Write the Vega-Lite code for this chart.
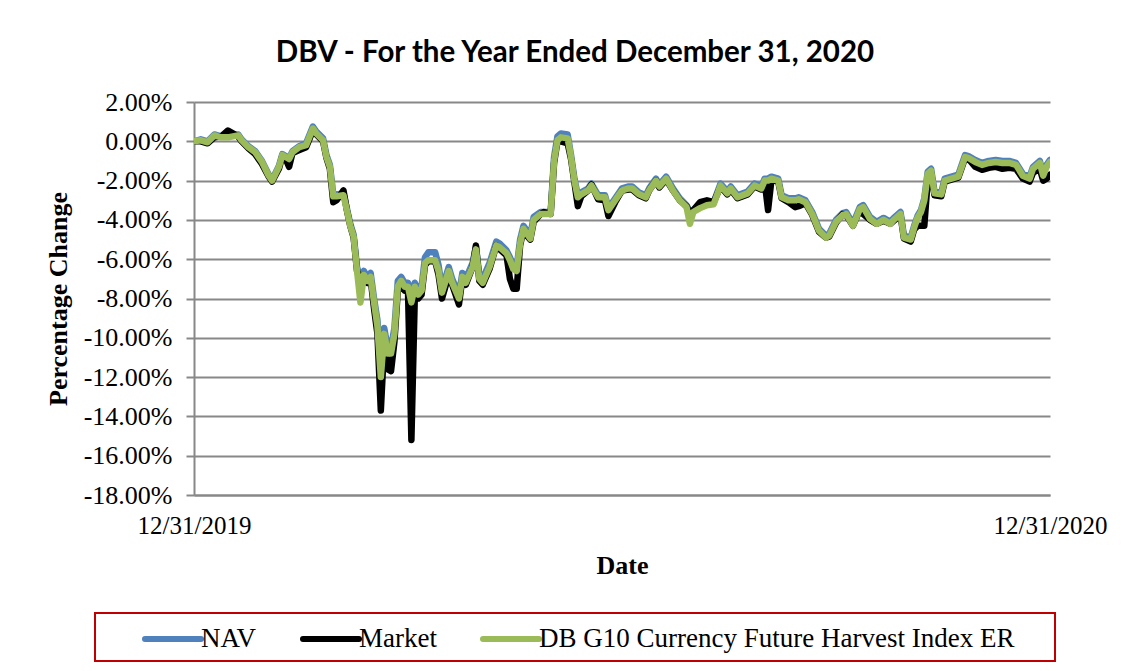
{
  "$schema": "https://vega.github.io/schema/vega-lite/v6.json",
  "width": 856,
  "height": 393,
  "autosize": {"type": "none"},
  "padding": {"left": 194, "top": 102, "right": 82, "bottom": 176},
  "background": "white",
  "title": {"text": "DBV - For the Year Ended December 31, 2020", "font": "Lato", "fontSize": 29.5, "fontWeight": "bold", "color": "black", "anchor": "middle", "frame": "group", "dx": -47, "offset": 21},
  "data": {"values": [
    {"d":0,"idx":0.0,"nav":0.0,"mkt":0.0},
    {"d":2,"idx":0.05,"nav":0.1,"mkt":0.0},
    {"d":4,"idx":-0.05,"nav":0.0,"mkt":-0.1},
    {"d":6,"idx":0.3,"nav":0.35,"mkt":0.2},
    {"d":8,"idx":0.2,"nav":0.25,"mkt":0.25},
    {"d":10,"idx":0.2,"nav":0.3,"mkt":0.55},
    {"d":13,"idx":0.3,"nav":0.35,"mkt":0.25},
    {"d":14,"idx":0.05,"nav":0.1,"mkt":0.0},
    {"d":16,"idx":-0.3,"nav":-0.25,"mkt":-0.35},
    {"d":18,"idx":-0.55,"nav":-0.5,"mkt":-0.65},
    {"d":20,"idx":-1.05,"nav":-1.0,"mkt":-1.15},
    {"d":22,"idx":-1.75,"nav":-1.7,"mkt":-1.8},
    {"d":23,"idx":-2.0,"nav":-1.95,"mkt":-2.05},
    {"d":25,"idx":-1.3,"nav":-1.25,"mkt":-1.4},
    {"d":26,"idx":-0.7,"nav":-0.65,"mkt":-0.75},
    {"d":27,"idx":-0.8,"nav":-0.75,"mkt":-0.9},
    {"d":28,"idx":-0.9,"nav":-0.85,"mkt":-1.3},
    {"d":29,"idx":-0.55,"nav":-0.5,"mkt":-0.6},
    {"d":31,"idx":-0.3,"nav":-0.25,"mkt":-0.45},
    {"d":33,"idx":-0.2,"nav":-0.1,"mkt":-0.3},
    {"d":35,"idx":0.65,"nav":0.75,"mkt":0.55},
    {"d":36,"idx":0.4,"nav":0.5,"mkt":0.35},
    {"d":38,"idx":0.05,"nav":0.15,"mkt":0.0},
    {"d":39,"idx":-0.8,"nav":-0.7,"mkt":-0.85},
    {"d":40,"idx":-1.3,"nav":-1.2,"mkt":-1.4},
    {"d":41,"idx":-2.8,"nav":-2.7,"mkt":-3.1},
    {"d":42,"idx":-2.8,"nav":-2.7,"mkt":-3.0},
    {"d":44,"idx":-2.75,"nav":-2.65,"mkt":-2.5},
    {"d":45,"idx":-3.5,"nav":-3.4,"mkt":-3.5},
    {"d":46,"idx":-4.3,"nav":-4.2,"mkt":-4.3},
    {"d":47,"idx":-4.85,"nav":-4.75,"mkt":-4.9},
    {"d":48,"idx":-6.6,"nav":-6.4,"mkt":-6.6},
    {"d":49,"idx":-8.2,"nav":-7.0,"mkt":-7.0},
    {"d":50,"idx":-6.8,"nav":-6.6,"mkt":-7.0},
    {"d":51,"idx":-7.1,"nav":-6.9,"mkt":-7.2},
    {"d":52,"idx":-6.9,"nav":-6.7,"mkt":-7.0},
    {"d":53,"idx":-8.2,"nav":-8.0,"mkt":-8.5},
    {"d":54,"idx":-9.4,"nav":-9.1,"mkt":-9.8},
    {"d":55,"idx":-12.0,"nav":-11.5,"mkt":-13.7},
    {"d":56,"idx":-9.8,"nav":-9.5,"mkt":-10.3},
    {"d":57,"idx":-10.8,"nav":-10.5,"mkt":-11.6},
    {"d":58,"idx":-10.8,"nav":-10.5,"mkt":-11.7},
    {"d":59,"idx":-9.8,"nav":-9.5,"mkt":-10.2},
    {"d":60,"idx":-7.4,"nav":-7.1,"mkt":-7.6},
    {"d":61,"idx":-7.1,"nav":-6.9,"mkt":-7.3},
    {"d":62,"idx":-7.4,"nav":-7.2,"mkt":-7.6},
    {"d":63,"idx":-7.4,"nav":-7.2,"mkt":-7.6},
    {"d":64,"idx":-8.2,"nav":-8.0,"mkt":-15.2},
    {"d":65,"idx":-7.4,"nav":-7.2,"mkt":-7.9},
    {"d":66,"idx":-7.8,"nav":-7.6,"mkt":-8.0},
    {"d":67,"idx":-7.6,"nav":-7.4,"mkt":-7.8},
    {"d":68,"idx":-6.2,"nav":-5.9,"mkt":-6.3},
    {"d":69,"idx":-6.05,"nav":-5.65,"mkt":-6.1},
    {"d":71,"idx":-6.05,"nav":-5.65,"mkt":-6.1},
    {"d":72,"idx":-6.6,"nav":-6.3,"mkt":-6.8},
    {"d":73,"idx":-7.7,"nav":-7.5,"mkt":-8.0},
    {"d":75,"idx":-6.6,"nav":-6.4,"mkt":-6.8},
    {"d":76,"idx":-7.2,"nav":-7.0,"mkt":-7.3},
    {"d":78,"idx":-8.0,"nav":-7.8,"mkt":-8.3},
    {"d":79,"idx":-6.9,"nav":-6.7,"mkt":-7.0},
    {"d":80,"idx":-7.2,"nav":-7.0,"mkt":-7.3},
    {"d":82,"idx":-6.4,"nav":-6.2,"mkt":-6.4},
    {"d":83,"idx":-5.5,"nav":-5.35,"mkt":-5.3},
    {"d":84,"idx":-7.0,"nav":-6.8,"mkt":-7.1},
    {"d":85,"idx":-7.2,"nav":-7.0,"mkt":-7.3},
    {"d":87,"idx":-6.4,"nav":-6.2,"mkt":-6.5},
    {"d":89,"idx":-5.3,"nav":-5.1,"mkt":-5.3},
    {"d":90,"idx":-5.4,"nav":-5.2,"mkt":-5.5},
    {"d":92,"idx":-5.7,"nav":-5.55,"mkt":-5.8},
    {"d":93,"idx":-6.05,"nav":-5.9,"mkt":-7.0},
    {"d":94,"idx":-6.5,"nav":-6.3,"mkt":-7.5},
    {"d":95,"idx":-6.6,"nav":-6.4,"mkt":-7.5},
    {"d":96,"idx":-5.2,"nav":-5.0,"mkt":-5.3},
    {"d":97,"idx":-4.45,"nav":-4.3,"mkt":-4.5},
    {"d":98,"idx":-4.7,"nav":-4.55,"mkt":-4.8},
    {"d":99,"idx":-4.95,"nav":-4.8,"mkt":-5.0},
    {"d":100,"idx":-4.0,"nav":-3.85,"mkt":-4.1},
    {"d":102,"idx":-3.7,"nav":-3.6,"mkt":-3.7},
    {"d":103,"idx":-3.7,"nav":-3.6,"mkt":-3.6},
    {"d":105,"idx":-3.7,"nav":-3.6,"mkt":-3.7},
    {"d":106,"idx":-1.0,"nav":-0.8,"mkt":-1.1},
    {"d":107,"idx":0.05,"nav":0.25,"mkt":0.0},
    {"d":108,"idx":0.2,"nav":0.4,"mkt":0.0},
    {"d":110,"idx":0.15,"nav":0.35,"mkt":-0.1},
    {"d":111,"idx":-0.8,"nav":-0.7,"mkt":-0.9},
    {"d":112,"idx":-2.0,"nav":-1.9,"mkt":-2.1},
    {"d":113,"idx":-2.85,"nav":-2.75,"mkt":-3.3},
    {"d":114,"idx":-2.7,"nav":-2.6,"mkt":-2.8},
    {"d":116,"idx":-2.5,"nav":-2.4,"mkt":-2.5},
    {"d":117,"idx":-2.25,"nav":-2.15,"mkt":-2.2},
    {"d":119,"idx":-2.85,"nav":-2.75,"mkt":-2.95},
    {"d":121,"idx":-2.85,"nav":-2.75,"mkt":-3.0},
    {"d":122,"idx":-3.5,"nav":-3.4,"mkt":-3.8},
    {"d":124,"idx":-3.0,"nav":-2.9,"mkt":-3.1},
    {"d":126,"idx":-2.5,"nav":-2.4,"mkt":-2.5},
    {"d":128,"idx":-2.4,"nav":-2.3,"mkt":-2.45},
    {"d":129,"idx":-2.4,"nav":-2.3,"mkt":-2.45},
    {"d":131,"idx":-2.7,"nav":-2.6,"mkt":-2.75},
    {"d":133,"idx":-2.85,"nav":-2.75,"mkt":-2.9},
    {"d":134,"idx":-2.5,"nav":-2.4,"mkt":-2.5},
    {"d":136,"idx":-2.0,"nav":-1.9,"mkt":-2.0},
    {"d":137,"idx":-2.3,"nav":-2.2,"mkt":-2.35},
    {"d":139,"idx":-1.9,"nav":-1.8,"mkt":-1.95},
    {"d":141,"idx":-2.5,"nav":-2.4,"mkt":-2.5},
    {"d":143,"idx":-3.0,"nav":-2.9,"mkt":-3.0},
    {"d":145,"idx":-3.35,"nav":-3.25,"mkt":-3.3},
    {"d":146,"idx":-4.2,"nav":-3.6,"mkt":-3.7},
    {"d":147,"idx":-3.6,"nav":-3.5,"mkt":-3.5},
    {"d":149,"idx":-3.4,"nav":-3.3,"mkt":-3.1},
    {"d":151,"idx":-3.25,"nav":-3.15,"mkt":-3.0},
    {"d":153,"idx":-3.2,"nav":-3.1,"mkt":-3.1},
    {"d":155,"idx":-2.25,"nav":-2.15,"mkt":-2.3},
    {"d":157,"idx":-2.65,"nav":-2.55,"mkt":-2.7},
    {"d":158,"idx":-2.4,"nav":-2.3,"mkt":-2.45},
    {"d":160,"idx":-2.85,"nav":-2.75,"mkt":-2.9},
    {"d":163,"idx":-2.65,"nav":-2.55,"mkt":-2.7},
    {"d":165,"idx":-2.25,"nav":-2.15,"mkt":-2.3},
    {"d":167,"idx":-2.4,"nav":-2.3,"mkt":-2.45},
    {"d":168,"idx":-2.0,"nav":-1.9,"mkt":-2.05},
    {"d":169,"idx":-2.0,"nav":-1.9,"mkt":-3.5},
    {"d":170,"idx":-1.9,"nav":-1.8,"mkt":-1.95},
    {"d":172,"idx":-2.0,"nav":-1.9,"mkt":-2.05},
    {"d":173,"idx":-2.85,"nav":-2.75,"mkt":-2.9},
    {"d":175,"idx":-3.0,"nav":-2.9,"mkt":-3.1},
    {"d":177,"idx":-3.0,"nav":-2.9,"mkt":-3.35},
    {"d":178,"idx":-2.95,"nav":-2.85,"mkt":-3.3},
    {"d":180,"idx":-3.1,"nav":-3.0,"mkt":-3.15},
    {"d":182,"idx":-3.7,"nav":-3.6,"mkt":-3.75},
    {"d":184,"idx":-4.55,"nav":-4.45,"mkt":-4.6},
    {"d":186,"idx":-4.9,"nav":-4.8,"mkt":-4.9},
    {"d":187,"idx":-4.8,"nav":-4.7,"mkt":-4.85},
    {"d":189,"idx":-4.1,"nav":-4.0,"mkt":-4.15},
    {"d":191,"idx":-3.75,"nav":-3.65,"mkt":-3.7},
    {"d":192,"idx":-3.7,"nav":-3.6,"mkt":-3.75},
    {"d":194,"idx":-4.3,"nav":-4.2,"mkt":-4.3},
    {"d":196,"idx":-3.45,"nav":-3.35,"mkt":-3.5},
    {"d":197,"idx":-3.35,"nav":-3.25,"mkt":-3.7},
    {"d":199,"idx":-3.95,"nav":-3.85,"mkt":-4.0},
    {"d":201,"idx":-4.2,"nav":-4.1,"mkt":-4.2},
    {"d":203,"idx":-4.0,"nav":-3.9,"mkt":-4.05},
    {"d":205,"idx":-4.2,"nav":-4.1,"mkt":-4.2},
    {"d":206,"idx":-4.0,"nav":-3.9,"mkt":-4.05},
    {"d":208,"idx":-3.7,"nav":-3.6,"mkt":-3.75},
    {"d":209,"idx":-4.9,"nav":-4.8,"mkt":-4.95},
    {"d":211,"idx":-5.0,"nav":-4.9,"mkt":-5.1},
    {"d":212,"idx":-4.4,"nav":-4.3,"mkt":-4.5},
    {"d":213,"idx":-3.9,"nav":-3.8,"mkt":-4.3},
    {"d":214,"idx":-3.6,"nav":-3.5,"mkt":-4.3},
    {"d":215,"idx":-3.0,"nav":-2.9,"mkt":-4.3},
    {"d":216,"idx":-1.65,"nav":-1.55,"mkt":-2.0},
    {"d":217,"idx":-1.5,"nav":-1.4,"mkt":-1.6},
    {"d":218,"idx":-2.65,"nav":-2.55,"mkt":-2.75},
    {"d":220,"idx":-2.7,"nav":-2.6,"mkt":-2.8},
    {"d":221,"idx":-2.0,"nav":-1.9,"mkt":-2.05},
    {"d":223,"idx":-1.9,"nav":-1.8,"mkt":-1.95},
    {"d":225,"idx":-1.8,"nav":-1.7,"mkt":-1.85},
    {"d":226,"idx":-1.3,"nav":-1.2,"mkt":-1.35},
    {"d":227,"idx":-0.8,"nav":-0.7,"mkt":-0.85},
    {"d":228,"idx":-0.85,"nav":-0.75,"mkt":-0.9},
    {"d":230,"idx":-1.05,"nav":-0.95,"mkt":-1.3},
    {"d":232,"idx":-1.2,"nav":-1.1,"mkt":-1.45},
    {"d":234,"idx":-1.1,"nav":-1.0,"mkt":-1.35},
    {"d":236,"idx":-1.05,"nav":-0.95,"mkt":-1.3},
    {"d":238,"idx":-1.1,"nav":-1.0,"mkt":-1.4},
    {"d":240,"idx":-1.1,"nav":-1.0,"mkt":-1.35},
    {"d":242,"idx":-1.2,"nav":-1.1,"mkt":-1.4},
    {"d":244,"idx":-1.75,"nav":-1.65,"mkt":-1.9},
    {"d":246,"idx":-1.9,"nav":-1.8,"mkt":-2.05},
    {"d":247,"idx":-1.4,"nav":-1.3,"mkt":-1.6},
    {"d":249,"idx":-1.1,"nav":-1.0,"mkt":-1.4},
    {"d":250,"idx":-1.75,"nav":-1.65,"mkt":-2.0},
    {"d":251,"idx":-1.3,"nav":-1.2,"mkt":-1.9},
    {"d":252,"idx":-1.05,"nav":-0.95,"mkt":-1.7}
  ]},
  "encoding": {
    "x": {
      "field": "d", "type": "quantitative",
      "scale": {"domain": [0, 252], "nice": false, "zero": false},
      "axis": {"values": [0, 252], "labelExpr": "datum.value == 0 ? '12/31/2019' : '12/31/2020'", "title": "Date", "grid": false, "ticks": false, "labelOverlap": false, "labelFlush": false}
    }
  },
  "layer": [
    {
      "mark": {"type": "line", "strokeWidth": 6.5, "strokeJoin": "round", "strokeCap": "round", "clip": true},
      "encoding": {
        "y": {"field": "nav", "type": "quantitative", "title": "Percentage Change", "scale": {"domain": [-18, 2], "nice": false, "zero": false},
              "axis": {"values": [-18,-16,-14,-12,-10,-8,-6,-4,-2,0,2], "labelExpr": "(datum.value < 0 ? '-' : '') + format(abs(datum.value), '.2f') + '%'", "grid": true, "labelOverlap": false}},
        "color": {"datum": "NAV", "type": "nominal",
                  "scale": {"domain": ["NAV", "Market", "DB G10 Currency Future Harvest Index ER"], "range": ["#4F81BD", "#000000", "#9BBB59"]},
                  "legend": {"orient": "none", "legendX": -99, "legendY": 511, "direction": "horizontal", "title": " ", "titleOrient": "right", "titlePadding": 32, "titleFontSize": 27,
                             "encode": {"legend": {"update": {"strokeWidth": {"value": 2}}}, "symbols": {"update": {"strokeCap": {"value": "round"}}}}}}
      }
    },
    {
      "mark": {"type": "line", "strokeWidth": 6.5, "strokeJoin": "round", "strokeCap": "round", "clip": true},
      "encoding": {
        "y": {"field": "mkt", "type": "quantitative", "title": "Percentage Change",
              "axis": {"values": [-18,-16,-14,-12,-10,-8,-6,-4,-2,0,2], "labelExpr": "(datum.value < 0 ? '-' : '') + format(abs(datum.value), '.2f') + '%'", "grid": true, "labelOverlap": false}},
        "color": {"datum": "Market", "type": "nominal"}
      }
    },
    {
      "mark": {"type": "line", "strokeWidth": 6.5, "strokeJoin": "round", "strokeCap": "round", "clip": true},
      "encoding": {
        "y": {"field": "idx", "type": "quantitative", "title": "Percentage Change",
              "axis": {"values": [-18,-16,-14,-12,-10,-8,-6,-4,-2,0,2], "labelExpr": "(datum.value < 0 ? '-' : '') + format(abs(datum.value), '.2f') + '%'", "grid": true, "labelOverlap": false}},
        "color": {"datum": "DB G10 Currency Future Harvest Index ER", "type": "nominal"}
      }
    }
  ],
  "config": {
    "view": {"stroke": null},
    "axisY": {"domainColor": "#888888", "domainWidth": 2, "tickColor": "#888888", "tickWidth": 2, "tickSize": 8, "gridColor": "#888888", "gridWidth": 2, "gridOpacity": 1,
              "labelFont": "Liberation Serif", "labelFontSize": 26, "labelColor": "black", "labelPadding": 14,
              "titleFont": "Liberation Serif", "titleFontSize": 26, "titleFontWeight": "bold", "titleColor": "black", "titlePadding": 12},
    "axisX": {"domainColor": "#888888", "domainWidth": 2,
              "labelFont": "Liberation Serif", "labelFontSize": 25, "labelColor": "black", "labelPadding": 18,
              "titleFont": "Liberation Serif", "titleFontSize": 26, "titleFontWeight": "bold", "titleColor": "black", "titlePadding": 14},
    "legend": {"symbolType": "M-2,0H2", "symbolStrokeWidth": 6, "symbolSize": 784, "labelFont": "Liberation Serif", "labelFontSize": 27, "labelColor": "black",
               "strokeColor": "#C00000", "padding": 9, "symbolOffset": 52, "columnPadding": 5, "labelOffset": 11, "labelLimit": 0}
  }
}
